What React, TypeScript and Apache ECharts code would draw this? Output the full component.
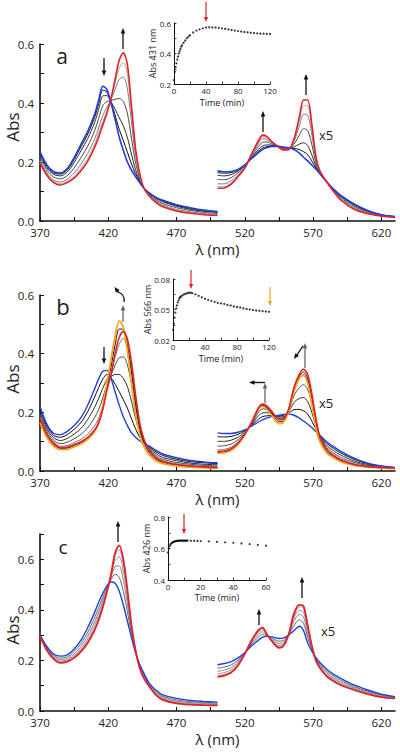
import React, { useEffect, useRef } from 'react';
import * as echarts from 'echarts';

// ---------- wavelength grids ----------
const SORET_WL = [370,375,380,385,390,395,400,405,410,413,416,419,422,425,428,431,434,437,440,443,446,450,455,460,470,480,490,500];
const VIS_WL = [500,505,510,515,520,525,530,533,536,540,545,548,552,556,560,563,566,569,572,575,580,585,590,600,610,620,630];

// ---------- panel a ----------
const A_SORET_BLUE = [.235,.19,.167,.163,.178,.215,.26,.305,.362,.41,.457,.445,.4,.345,.285,.24,.2,.172,.15,.13,.112,.095,.08,.07,.055,.045,.037,.032];
const A_SORET_RED = [.198,.155,.13,.122,.13,.145,.17,.203,.25,.285,.325,.365,.415,.48,.545,.57,.53,.39,.245,.162,.112,.085,.062,.048,.034,.026,.021,.019];
const A_SORET_GRAY = [
  [.231,.187,.163,.159,.173,.208,.251,.295,.351,.398,.444,.437,.402,.359,.311,.273,.233,.194,.16,.133,.112,.094,.078,.068,.053,.043,.035,.031],
  [.226,.181,.158,.153,.166,.198,.238,.28,.334,.379,.424,.425,.404,.379,.35,.323,.283,.227,.174,.138,.112,.093,.076,.065,.05,.04,.033,.029],
  [.217,.173,.149,.143,.154,.18,.215,.254,.306,.348,.391,.405,.408,.413,.415,.405,.365,.281,.198,.146,.112,.09,.071,.059,.045,.036,.029,.026],
  [.207,.164,.139,.132,.142,.163,.193,.229,.278,.316,.358,.385,.411,.446,.48,.488,.448,.336,.221,.154,.112,.088,.067,.054,.039,.031,.025,.022],
  [.202,.159,.134,.126,.135,.152,.179,.213,.261,.298,.338,.373,.414,.467,.519,.537,.497,.368,.236,.159,.112,.086,.064,.05,.036,.028,.023,.02],
];
const A_VIS_BLUE = [.17,.167,.168,.175,.19,.212,.232,.242,.248,.253,.253,.251,.248,.242,.23,.216,.204,.19,.176,.16,.133,.108,.088,.058,.036,.021,.015];
const A_VIS_RED = [.111,.112,.125,.15,.179,.228,.272,.291,.287,.268,.25,.241,.242,.278,.354,.41,.41,.331,.22,.17,.132,.1,.072,.04,.025,.017,.012];
const A_VIS_GRAY = [
  [.164,.162,.164,.173,.189,.214,.236,.247,.252,.255,.253,.25,.247,.246,.242,.235,.225,.204,.18,.161,.133,.107,.086,.056,.035,.021,.015],
  [.155,.153,.157,.169,.187,.216,.242,.254,.258,.257,.252,.249,.247,.251,.261,.265,.256,.225,.187,.163,.133,.106,.084,.054,.033,.02,.014],
  [.141,.14,.147,.163,.185,.22,.252,.267,.268,.261,.252,.246,.245,.26,.292,.313,.307,.261,.198,.165,.133,.104,.08,.049,.031,.019,.014],
  [.126,.126,.136,.156,.182,.224,.262,.279,.277,.264,.251,.244,.244,.269,.323,.362,.359,.296,.209,.168,.132,.102,.076,.045,.028,.018,.013],
  [.117,.117,.129,.153,.18,.226,.268,.286,.283,.266,.25,.242,.243,.274,.342,.391,.39,.317,.216,.169,.132,.101,.074,.042,.026,.017,.012],
];

// ---------- panel b ----------
const B_SORET_BLUE = [.22,.16,.128,.124,.135,.155,.182,.225,.28,.315,.34,.343,.315,.27,.225,.185,.155,.13,.115,.103,.095,.085,.07,.058,.045,.036,.031,.028];
const B_SORET_RED = [.18,.125,.095,.08,.082,.09,.1,.115,.14,.165,.21,.275,.33,.4,.455,.476,.45,.37,.26,.165,.11,.07,.045,.032,.022,.017,.014,.012];
const B_SORET_ORANGE = [.165,.115,.085,.073,.074,.082,.092,.108,.135,.165,.22,.3,.38,.46,.512,.49,.41,.3,.195,.125,.085,.055,.035,.025,.017,.013,.011,.01];
const B_SORET_GRAY = [
  [.212,.153,.121,.115,.124,.142,.166,.203,.252,.285,.314,.329,.318,.296,.271,.243,.214,.178,.144,.115,.098,.082,.065,.053,.04,.032,.028,.025],
  [.202,.144,.113,.104,.111,.126,.145,.176,.217,.248,.282,.312,.322,.329,.329,.316,.288,.238,.18,.131,.102,.078,.059,.046,.035,.027,.023,.021],
  [.192,.136,.105,.093,.098,.11,.125,.148,.182,.21,.249,.295,.326,.361,.386,.389,.362,.298,.217,.146,.106,.075,.053,.04,.029,.023,.019,.017],
  [.184,.129,.098,.084,.087,.097,.108,.126,.154,.18,.223,.282,.329,.387,.432,.452,.42,.346,.246,.159,.109,.072,.048,.035,.025,.019,.016,.014],
  [.172,.12,.09,.077,.078,.086,.096,.112,.138,.165,.215,.288,.355,.43,.484,.483,.43,.335,.228,.145,.098,.063,.04,.029,.02,.015,.013,.011],
];
const B_VIS_BLUE = [.13,.128,.128,.132,.14,.153,.167,.174,.18,.186,.19,.193,.194,.19,.18,.17,.16,.148,.135,.122,.1,.083,.068,.044,.027,.017,.012];
const B_VIS_RED = [.066,.068,.076,.095,.125,.165,.215,.228,.222,.202,.176,.176,.21,.285,.33,.347,.33,.265,.18,.117,.072,.052,.038,.022,.015,.012,.01];
const B_VIS_ORANGE = [.06,.062,.07,.09,.124,.168,.214,.22,.21,.188,.162,.165,.2,.27,.316,.326,.3,.23,.15,.1,.062,.045,.032,.019,.013,.01,.008];
const B_VIS_GRAY = [
  [.117,.116,.118,.125,.137,.155,.177,.185,.188,.189,.187,.19,.197,.209,.21,.205,.194,.171,.144,.121,.094,.077,.062,.04,.025,.016,.012],
  [.101,.101,.105,.115,.133,.158,.189,.198,.199,.193,.184,.185,.201,.233,.248,.25,.237,.201,.155,.12,.087,.069,.055,.034,.022,.015,.011],
  [.085,.086,.092,.106,.13,.161,.201,.212,.209,.197,.18,.181,.205,.257,.285,.294,.279,.23,.167,.119,.08,.061,.047,.029,.019,.014,.011],
  [.072,.074,.081,.099,.127,.164,.21,.223,.218,.2,.177,.178,.208,.276,.315,.329,.313,.253,.176,.118,.075,.055,.041,.024,.016,.013,.01],
  [.063,.065,.073,.093,.125,.167,.215,.224,.216,.195,.169,.17,.205,.278,.323,.337,.315,.248,.165,.108,.067,.049,.035,.02,.014,.011,.009],
];

// ---------- panel c ----------
const C_SORET_BLUE = [.3,.255,.225,.217,.222,.245,.28,.33,.39,.43,.465,.495,.51,.505,.475,.42,.355,.29,.23,.185,.15,.11,.082,.064,.05,.042,.038,.035];
const C_SORET_RED = [.295,.24,.205,.19,.195,.21,.235,.27,.32,.36,.41,.47,.54,.625,.655,.6,.48,.34,.24,.17,.13,.097,.063,.044,.03,.025,.023,.022];
const C_SORET_GRAY = [
  [.299,.251,.219,.209,.214,.235,.267,.312,.369,.409,.449,.488,.519,.541,.529,.474,.393,.305,.233,.181,.144,.106,.076,.058,.044,.037,.034,.031],
  [.297,.247,.214,.202,.207,.226,.255,.297,.352,.392,.435,.481,.527,.571,.574,.519,.424,.318,.236,.177,.139,.103,.072,.053,.039,.033,.03,.028],
  [.296,.244,.21,.197,.202,.219,.246,.285,.338,.378,.424,.476,.533,.595,.61,.555,.449,.328,.238,.174,.135,.1,.068,.049,.035,.029,.027,.025],
  [.296,.242,.207,.193,.198,.214,.24,.276,.327,.367,.415,.473,.537,.613,.637,.582,.468,.335,.239,.172,.132,.098,.065,.046,.032,.027,.025,.023],
];
const C_VIS_BLUE = [.183,.188,.195,.21,.23,.258,.28,.292,.295,.293,.287,.288,.3,.318,.335,.318,.27,.238,.212,.192,.165,.145,.13,.103,.083,.067,.057];
const C_VIS_RED = [.135,.14,.152,.18,.226,.28,.32,.33,.305,.275,.25,.255,.3,.385,.42,.415,.34,.262,.2,.17,.137,.118,.103,.083,.067,.055,.05];
const C_VIS_GRAY = [
  [.169,.174,.182,.201,.229,.265,.292,.303,.298,.288,.276,.278,.3,.338,.361,.347,.291,.245,.208,.185,.157,.137,.122,.097,.078,.063,.055],
  [.157,.162,.171,.194,.228,.27,.302,.313,.301,.283,.267,.27,.3,.355,.382,.371,.309,.251,.205,.18,.15,.13,.115,.092,.074,.06,.053],
  [.147,.152,.163,.188,.227,.275,.31,.321,.303,.28,.259,.263,.3,.368,.399,.391,.323,.256,.203,.176,.144,.125,.11,.088,.071,.058,.052],
  [.14,.145,.156,.183,.226,.278,.316,.326,.304,.277,.254,.258,.3,.375,.412,.405,.333,.26,.201,.172,.14,.121,.106,.085,.069,.056,.051],
];

// ---------- insets (kinetics) ----------
const INSET_A_TIME = [0,1,2,3,4,5,6,7,8,9,10,12,14,16,18,20,24,28,32,36,40,44,48,52,56,60,64,68,72,76,80,84,88,92,96,100,104,108,112,116,120];
const INSET_A_ABS = [.226,.28,.31,.335,.36,.38,.4,.415,.43,.445,.455,.47,.485,.5,.51,.52,.538,.55,.558,.565,.57,.572,.571,.57,.568,.565,.562,.558,.554,.55,.547,.544,.541,.539,.536,.534,.532,.531,.53,.529,.528];
const INSET_B_TIME = [0,1,2,3,4,5,6,7,8,9,10,12,14,16,18,20,22,24,28,32,36,40,44,48,52,56,60,64,68,72,76,80,84,88,92,96,100,104,108,112,116,120];
const INSET_B_ABS = [.03,.036,.042,.047,.051,.054,.057,.059,.061,.062,.063,.064,.065,.0655,.066,.0665,.0665,.066,.065,.0635,.062,.0605,.0595,.0585,.0575,.0565,.056,.0555,.0545,.054,.053,.0525,.052,.0512,.0505,.05,.0495,.049,.0487,.0483,.048,.0478];
const INSET_C_TIME = [0,.5,1,1.5,2,2.5,3,3.5,4,4.5,5,5.5,6,6.5,7,7.5,8,8.5,9,9.5,10,10.5,11,11.5,12,14,16,18,20,25,30,35,40,45,50,55,60];
const INSET_C_ABS = [.575,.6,.615,.625,.632,.637,.64,.642,.645,.646,.647,.648,.649,.65,.65,.65,.65,.65,.65,.65,.65,.65,.65,.65,.65,.649,.649,.648,.647,.645,.642,.639,.636,.632,.628,.623,.618];

const X_LABELS = [370, 420, 470, 520, 570, 620];
const X_TICKS = [370, 395, 420, 445, 470, 495, 520, 545, 570, 595, 620];

const BLUE = '#1f3fe0';
const RED = '#e3202a';
const ORANGE = '#f3a520';
const GRAYS5 = ['#0a0a0a', '#2a2a2a', '#4a4a4a', '#7a7a7a', '#a8a8a8'];
const FONT = "'Open Sans', 'Noto Sans', sans-serif";

function spec(idx: number, wl: number[], vals: number[], color: string, width: number, z: number) {
  return {
    type: 'line', xAxisIndex: idx, yAxisIndex: idx, silent: true,
    data: wl.map((w, i) => [w, vals[i]]),
    smooth: 0.3, showSymbol: false, symbol: 'none',
    lineStyle: { color, width }, z,
  };
}

function dots(idx: number, t: number[], v: number[]) {
  return {
    type: 'scatter', xAxisIndex: idx, yAxisIndex: idx, silent: true,
    data: t.map((x, i) => [x, v[i]]), symbolSize: 2.2,
    itemStyle: { color: '#000' },
  };
}

function arrow(x1: number, y1: number, x2: number, y2: number, color = '#111', lw = 1.3, head = 5.5) {
  const dx = x2 - x1, dy = y2 - y1;
  const L = Math.hypot(dx, dy);
  const ux = dx / L, uy = dy / L, px = -uy, py = ux;
  const bx = x2 - ux * head, by = y2 - uy * head;
  const w = head * 0.42;
  return [
    { type: 'line', silent: true, shape: { x1, y1, x2: bx + ux, y2: by + uy }, style: { stroke: color, lineWidth: lw } },
    { type: 'polygon', silent: true, shape: { points: [[x2, y2], [bx + px * w, by + py * w], [bx - px * w, by - py * w]] }, style: { fill: color } },
  ];
}

function txt(x: number, y: number, text: string, size: number, rotation = 0) {
  return { type: 'text', x, y, rotation, silent: true, style: { text, fontSize: size, fontFamily: FONT, fill: '#222', align: 'center', verticalAlign: 'middle' } };
}

function mainX(idx: number) {
  return {
    gridIndex: idx, type: 'value', min: 370, max: 630,
    name: 'λ (nm)', nameLocation: 'middle', nameGap: 20, nameMoveOverlap: false,
    nameTextStyle: { fontSize: 15, color: '#222', fontFamily: FONT },
    axisLine: { show: true, onZero: false, lineStyle: { color: '#111', width: 1.6 } },
    axisTick: { show: true, inside: true, length: 4, customValues: X_TICKS, lineStyle: { color: '#111', width: 1 } },
    axisLabel: { customValues: X_LABELS, margin: 5, fontSize: 11.5, color: '#222', fontFamily: FONT },
    splitLine: { show: false },
  };
}

function mainY(idx: number, max: number, ticks: number[]) {
  return {
    gridIndex: idx, type: 'value', min: 0, max,
    axisLine: { show: true, onZero: false, lineStyle: { color: '#111', width: 1.6 } },
    axisTick: { show: true, inside: true, length: 4, customValues: ticks, lineStyle: { color: '#111', width: 1 } },
    axisLabel: { customValues: [0, 0.2, 0.4, 0.6], margin: 6, fontSize: 11.5, color: '#222', fontFamily: FONT, formatter: (v: number) => v.toFixed(1) },
    splitLine: { show: false },
  };
}

function insetX(idx: number, max: number, ticks: number[], labels: number[], gap: number) {
  return {
    gridIndex: idx, type: 'value', min: 0, max,
    name: 'Time (min)', nameLocation: 'middle', nameGap: gap, nameMoveOverlap: false,
    nameTextStyle: { fontSize: 9, color: '#222', fontFamily: FONT },
    axisLine: { show: true, onZero: false, lineStyle: { color: '#111', width: 1 } },
    axisTick: { show: true, inside: true, length: 2.5, customValues: ticks, lineStyle: { color: '#111', width: 0.8 } },
    axisLabel: { customValues: labels, margin: 2, fontSize: 8, color: '#222', fontFamily: FONT },
    splitLine: { show: false },
  };
}

function insetY(idx: number, min: number, max: number, ticks: number[], labels: number[], name: string, gap: number, dec: number) {
  return {
    gridIndex: idx, type: 'value', min, max,
    name, nameLocation: 'middle', nameGap: gap, nameRotate: 90, nameMoveOverlap: false,
    nameTextStyle: { fontSize: 9, color: '#222', fontFamily: FONT },
    axisLine: { show: true, onZero: false, lineStyle: { color: '#111', width: 1 } },
    axisTick: { show: true, inside: true, length: 2.5, customValues: ticks, lineStyle: { color: '#111', width: 0.8 } },
    axisLabel: { customValues: labels, margin: 3, fontSize: 8, color: '#222', fontFamily: FONT, formatter: (v: number) => v.toFixed(dec) },
    splitLine: { show: false },
  };
}

export default function App() {
  const ref = useRef<HTMLDivElement>(null);
  useEffect(() => {
    if (!ref.current) return;
    const chart = echarts.init(ref.current, undefined, { renderer: 'svg' });

    const series: any[] = [];
    // panel a
    A_SORET_GRAY.forEach((g, i) => series.push(spec(0, SORET_WL, g, GRAYS5[i], 1, 2)));
    A_VIS_GRAY.forEach((g, i) => series.push(spec(0, VIS_WL, g, GRAYS5[i], 1, 2)));
    series.push(spec(0, SORET_WL, A_SORET_BLUE, BLUE, 1.6, 3));
    series.push(spec(0, VIS_WL, A_VIS_BLUE, BLUE, 1.6, 3));
    series.push(spec(0, SORET_WL, A_SORET_RED, RED, 1.6, 4));
    series.push(spec(0, VIS_WL, A_VIS_RED, RED, 1.6, 4));
    // panel b
    B_SORET_GRAY.forEach((g, i) => series.push(spec(1, SORET_WL, g, i === 4 ? '#111' : GRAYS5[i], 1, 2)));
    B_VIS_GRAY.forEach((g, i) => series.push(spec(1, VIS_WL, g, i === 4 ? '#111' : GRAYS5[i], 1, 2)));
    series.push(spec(1, SORET_WL, B_SORET_BLUE, BLUE, 1.4, 3));
    series.push(spec(1, VIS_WL, B_VIS_BLUE, BLUE, 1.4, 3));
    series.push(spec(1, SORET_WL, B_SORET_ORANGE, ORANGE, 1.8, 3));
    series.push(spec(1, VIS_WL, B_VIS_ORANGE, ORANGE, 1.8, 3));
    series.push(spec(1, SORET_WL, B_SORET_RED, RED, 1.6, 4));
    series.push(spec(1, VIS_WL, B_VIS_RED, RED, 1.6, 4));
    // panel c
    const cg = ['#555', '#777', '#8a8a8a', '#9a9a9a'];
    C_SORET_GRAY.forEach((g, i) => series.push(spec(2, SORET_WL, g, cg[i], 0.9, 2)));
    C_VIS_GRAY.forEach((g, i) => series.push(spec(2, VIS_WL, g, cg[i], 0.9, 2)));
    series.push(spec(2, SORET_WL, C_SORET_BLUE, BLUE, 1.4, 3));
    series.push(spec(2, VIS_WL, C_VIS_BLUE, BLUE, 1.4, 3));
    series.push(spec(2, SORET_WL, C_SORET_RED, RED, 1.8, 4));
    series.push(spec(2, VIS_WL, C_VIS_RED, RED, 1.8, 4));
    // insets
    series.push(dots(3, INSET_A_TIME, INSET_A_ABS));
    series.push(dots(4, INSET_B_TIME, INSET_B_ABS));
    series.push(dots(5, INSET_C_TIME, INSET_C_ABS));

    const graphic: any[] = [
      txt(12, 127, 'Abs', 17, Math.PI / 2), txt(12, 379, 'Abs', 17, Math.PI / 2), txt(12, 630, 'Abs', 17, Math.PI / 2),
      txt(62, 56, 'a', 21), txt(63, 306, 'b', 22), txt(63, 547, 'c', 19),
      txt(326, 135, 'x5', 13), txt(326, 403, 'x5', 13), txt(328, 631, 'x5', 13),
      // panel a arrows
      ...arrow(104, 58, 104, 76), ...arrow(123, 49, 123, 28),
      ...arrow(263, 132, 263, 111), ...arrow(306, 95, 306, 74),
      // panel b arrows
      ...arrow(104, 347, 104, 364), ...arrow(123, 322, 123, 305, '#666'),
      { type: 'bezierCurve', silent: true, shape: { x1: 124, y1: 302, cpx1: 125, cpy1: 296, cpx2: 121, cpy2: 293, x2: 118, y2: 292 }, style: { stroke: '#111', lineWidth: 1.3, fill: null } },
      ...arrow(118.5, 292.5, 114.5, 287),
      ...arrow(265, 403, 265, 383, '#666'),
      ...arrow(265, 382.5, 249, 382.5),
      ...arrow(305, 368, 305, 343, '#666'),
      ...arrow(303, 346, 294, 359),
      // panel c arrows
      ...arrow(118, 542, 118, 521), ...arrow(259, 625, 259, 609), ...arrow(302, 598, 302, 577),
      // inset arrows
      ...arrow(206, 2, 206, 22, RED, 1.2, 5), ...arrow(191, 270, 191, 289, RED, 1.2, 5),
      ...arrow(270, 287, 270, 306, ORANGE, 1.2, 5), ...arrow(184, 514, 184, 534, RED, 1.2, 5),
    ];

    chart.setOption({
      animation: false,
      backgroundColor: '#fff',
      textStyle: { fontFamily: FONT },
      grid: [
        { left: 40, top: 44, width: 355, height: 177, outerBoundsMode: 'none' },
        { left: 40, top: 295, width: 355, height: 176, outerBoundsMode: 'none' },
        { left: 40, top: 534, width: 355, height: 177, outerBoundsMode: 'none' },
        { left: 174, top: 23, width: 96, height: 61, outerBoundsMode: 'none' },
        { left: 173, top: 279, width: 96, height: 61, outerBoundsMode: 'none' },
        { left: 168, top: 517, width: 98, height: 63, outerBoundsMode: 'none' },
      ],
      xAxis: [
        mainX(0), mainX(1), mainX(2),
        insetX(3, 120, [0, 20, 40, 60, 80, 100, 120], [0, 40, 80, 120], 14),
        insetX(4, 120, [0, 20, 40, 60, 80, 100, 120], [0, 40, 80, 120], 14),
        insetX(5, 60, [0, 10, 20, 30, 40, 50, 60], [0, 20, 40, 60], 13),
      ],
      yAxis: [
        mainY(0, 0.6, [0, 0.1, 0.2, 0.3, 0.4, 0.5, 0.6]),
        mainY(1, 0.6, [0, 0.1, 0.2, 0.3, 0.4, 0.5, 0.6]),
        mainY(2, 0.7, [0, 0.1, 0.2, 0.3, 0.4, 0.5, 0.6, 0.7]),
        insetY(3, 0.2, 0.6, [0.2, 0.3, 0.4, 0.5, 0.6], [0.2, 0.4, 0.6], 'Abs 431 nm', 17, 1),
        insetY(4, 0.02, 0.08, [0.02, 0.035, 0.05, 0.065, 0.08], [0.02, 0.05, 0.08], 'Abs 566 nm', 21, 2),
        insetY(5, 0.4, 0.8, [0.4, 0.5, 0.6, 0.7, 0.8], [0.4, 0.6, 0.8], 'Abs 426 nm', 17, 1),
      ],
      series,
      graphic,
    });
    return () => chart.dispose();
  }, []);
  return <div ref={ref} style={{ position: 'fixed', left: 0, top: 0, width: 400, height: 752, background: '#fff' }} />;
}
